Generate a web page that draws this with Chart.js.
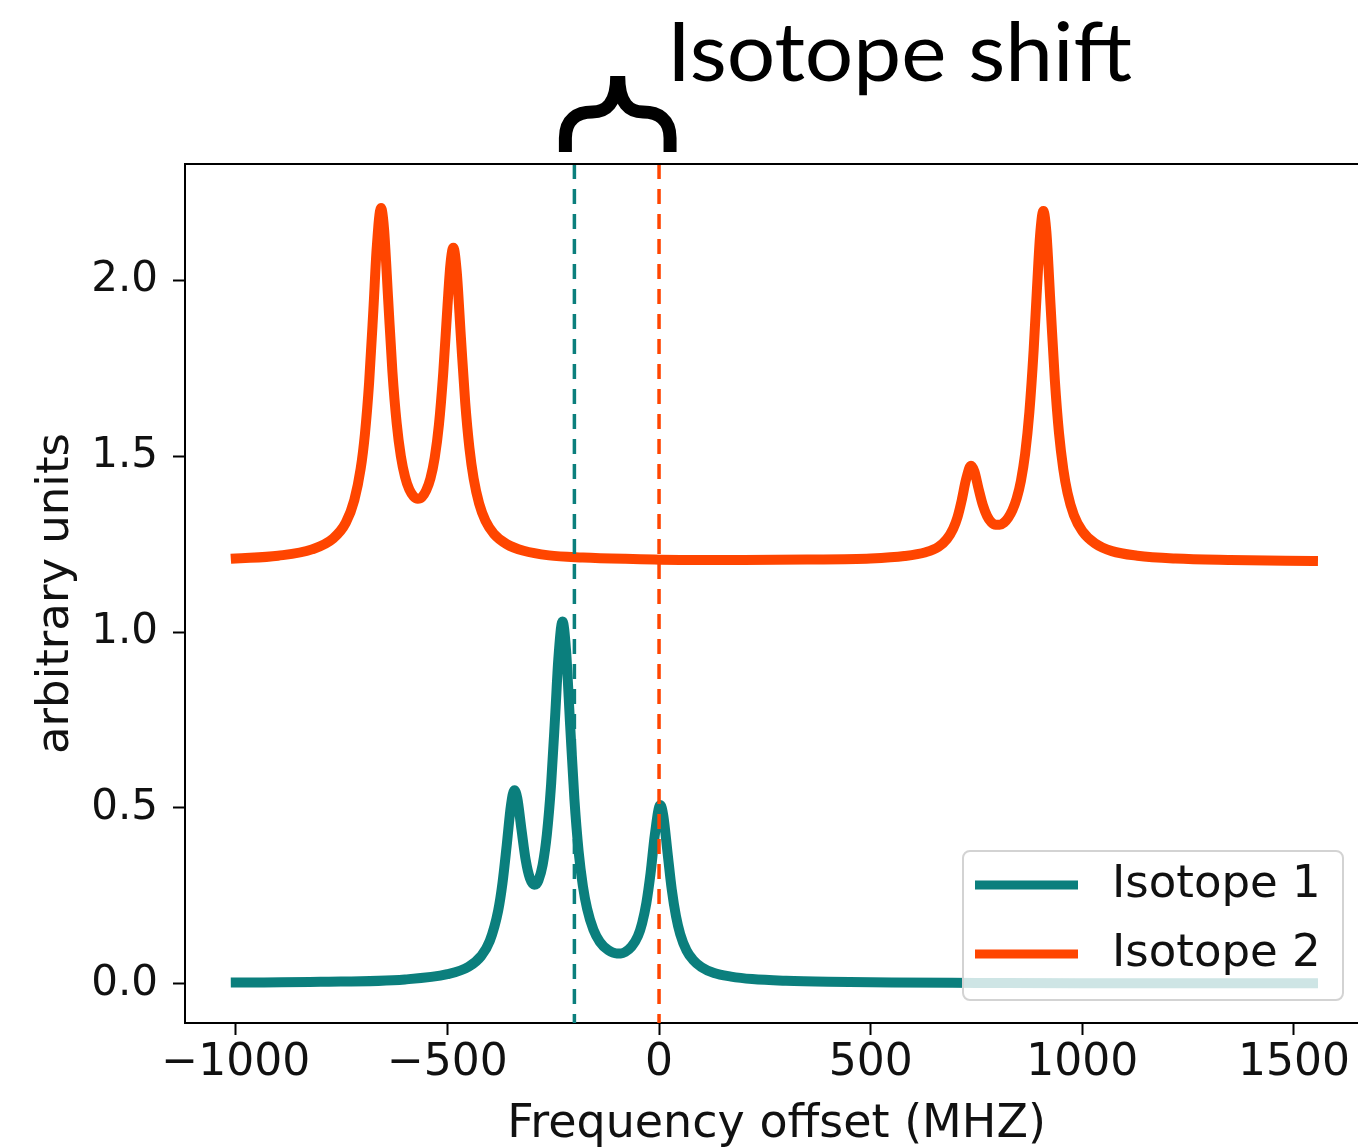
<!DOCTYPE html>
<html>
<head>
<meta charset="utf-8">
<script src="https://cdn.jsdelivr.net/npm/chart.js@4"></script>
<style>
  html, body { margin:0; padding:0; overflow:hidden; background:#fff; }
  #wrap { width:1400px; height:1148px; }
</style>
</head>
<body>
<div id="wrap"><canvas id="chart" width="1400" height="1148"></canvas></div>
<script>
// spectra (MHz offset, arbitrary units)
const freq1 = [-1000,-800,-600,-500,-450,-420,-400,-380,-370,-360,-350,-342,-335,-325,-315,-305,-295,-290,-285,-275,-265,-255,-245,-238,-228,-220,-210,-200,-190,-180,-170,-155,-140,-120,-100,-90,-80,-65,-50,-40,-30,-20,-10,3,10,20,30,40,50,65,80,100,130,170,220,300,400,550,750,1000,1250,1545];
const isotope1 = [0.003,0.005,0.012,0.027,0.048,0.079,0.121,0.208,0.285,0.392,0.506,0.550,0.528,0.438,0.351,0.299,0.281,0.283,0.293,0.338,0.425,0.567,0.771,0.922,1.030,0.952,0.734,0.525,0.376,0.278,0.213,0.153,0.119,0.095,0.086,0.086,0.090,0.105,0.135,0.172,0.229,0.314,0.423,0.508,0.478,0.373,0.268,0.192,0.141,0.094,0.068,0.047,0.030,0.020,0.013,0.008,0.005,0.003,0.002,0.001,0.001,0.001];

const freq2 = [-1000,-900,-820,-770,-740,-720,-705,-695,-685,-675,-667,-657,-650,-640,-630,-620,-610,-600,-590,-580,-570,-560,-550,-540,-530,-520,-510,-500,-493,-486,-478,-468,-458,-448,-438,-425,-410,-390,-360,-320,-260,-180,-80,50,200,350,500,580,630,660,680,695,705,715,725,737,745,755,765,775,785,795,805,815,825,835,845,855,865,875,885,893,900,908,915,925,935,945,955,965,980,1000,1030,1070,1130,1220,1350,1545];
const isotope2 = [1.209,1.217,1.235,1.266,1.311,1.375,1.464,1.562,1.709,1.915,2.093,2.206,2.150,1.946,1.741,1.595,1.500,1.441,1.405,1.386,1.379,1.384,1.403,1.437,1.496,1.590,1.735,1.924,2.044,2.093,2.025,1.835,1.653,1.523,1.436,1.365,1.316,1.279,1.250,1.231,1.218,1.212,1.208,1.205,1.205,1.206,1.209,1.216,1.227,1.242,1.264,1.294,1.326,1.374,1.432,1.473,1.457,1.407,1.361,1.330,1.312,1.305,1.305,1.311,1.325,1.347,1.380,1.430,1.507,1.626,1.801,1.979,2.124,2.197,2.139,1.929,1.718,1.565,1.464,1.396,1.333,1.287,1.252,1.230,1.217,1.209,1.205,1.202];

const labels = ['Isotope 1', 'Isotope 2'];
const colors = ['#0b7f7d', '#ff4500'];
const shiftLines = [-200, 0];   // dashed reference lines
const xTicks = [-1000, -500, 0, 500, 1000, 1500];
const yTicks = [0, 0.5, 1.0, 1.5, 2.0];
const annotation = 'Isotope shift';

const FONT = 'DejaVu Sans';

const toPoints = (xs, ys) => xs.map((x, i) => ({ x, y: ys[i] }));

const extras = {
  id: 'extras',
  afterDatasetsDraw(chart){
    const { ctx, chartArea: a, scales: { x } } = chart;
    ctx.save();
    // dashed lines
    ctx.lineWidth = 3.5;
    ctx.setLineDash([15, 10]);
    shiftLines.forEach((v, i) => {
      const px = x.getPixelForValue(v);
      ctx.strokeStyle = colors[i];
      ctx.beginPath();
      ctx.moveTo(px, a.top);
      ctx.lineTo(px, a.bottom);
      ctx.stroke();
    });
    ctx.setLineDash([]);
    // top and right spines
    ctx.strokeStyle = '#000';
    ctx.lineWidth = 2;
    ctx.beginPath();
    ctx.moveTo(a.left - 1, a.top);
    ctx.lineTo(a.right, a.top);
    ctx.lineTo(a.right, a.bottom);
    ctx.stroke();
    ctx.restore();
  },
  afterDraw(chart){
    const { ctx, chartArea: a, scales: { x } } = chart;
    ctx.save();

    // legend box, lower right
    const bx = a.right - 405, by = a.bottom - 172, bw = 380, bh = 149;
    ctx.fillStyle = 'rgba(255,255,255,0.8)';
    ctx.strokeStyle = '#d3d3d3';
    ctx.lineWidth = 2;
    ctx.beginPath();
    ctx.roundRect(bx, by, bw, bh, 7);
    ctx.fill();
    ctx.stroke();
    ctx.font = `45px "${FONT}"`;
    ctx.textBaseline = 'middle';
    ctx.textAlign = 'left';
    labels.forEach((lab, i) => {
      const ly = by + 34 + i * 69;
      ctx.strokeStyle = colors[i];
      ctx.lineWidth = 9;
      ctx.beginPath();
      ctx.moveTo(bx + 12, ly);
      ctx.lineTo(bx + 115, ly);
      ctx.stroke();
      ctx.fillStyle = '#111';
      ctx.fillText(lab, bx + 149, ly);
    });

    // brace spanning the two reference lines
    const xl = x.getPixelForValue(shiftLines[0]) - 9;
    const xr = x.getPixelForValue(shiftLines[1]) + 11;
    const xm = (xl + xr) / 2;
    ctx.strokeStyle = '#000';
    ctx.lineWidth = 13;
    ctx.lineCap = 'butt';
    ctx.lineJoin = 'round';
    [[xl, 1], [xr, -1]].forEach(([x0, s]) => {
      ctx.beginPath();
      ctx.moveTo(x0, 152);
      ctx.lineTo(x0, 138);
      ctx.bezierCurveTo(x0, 119, x0 + s * 12, 112, x0 + s * 27, 112);
      ctx.bezierCurveTo(xm - s * 12, 112, xm - s * 1, 104, xm - s * 1, 76);
      ctx.stroke();
    });

    // annotation text
    ctx.font = '81px Lato';
    ctx.fillStyle = '#000';
    ctx.textBaseline = 'alphabetic';
    const w = ctx.measureText(annotation).width;
    ctx.translate(667, 81);
    ctx.scale(465 / w, 1);
    ctx.fillText(annotation, 0, 0);
    ctx.restore();
  }
};

new Chart(document.getElementById('chart'), {
  type: 'line',
  data: {
    datasets: [
      { label: labels[0], data: toPoints(freq1, isotope1), borderColor: colors[0] },
      { label: labels[1], data: toPoints(freq2, isotope2), borderColor: colors[1] }
    ]
  },
  options: {
    responsive: false,
    animation: false,
    layout: { padding: { left: 0, top: 164, right: 32, bottom: 0 } },
    elements: {
      point: { radius: 0 },
      line: { borderWidth: 10, cubicInterpolationMode: 'monotone', fill: false, borderCapStyle: 'square' }
    },
    plugins: { legend: { display: false }, tooltip: { enabled: false } },
    scales: {
      x: {
        type: 'linear', min: -1120, max: 1675,
        afterBuildTicks: s => { s.ticks = xTicks.map(v => ({ value: v })); },
        afterFit: s => { s.height = 125; },
        grid: { drawOnChartArea: false, drawTicks: true, tickLength: 12, tickWidth: 2, tickColor: '#000' },
        border: { display: true, color: '#000', width: 2 },
        ticks: {
          padding: 2, maxRotation: 0, autoSkip: false, color: '#111',
          font: { family: FONT, size: 44 },
          callback: v => String(v).replace('-', '\u2212')
        },
        title: { display: true, text: 'Frequency offset (MHZ)', color: '#111',
          font: { family: FONT, size: 46, lineHeight: 1 }, padding: 0 }
      },
      y: {
        type: 'linear', min: -0.112, max: 2.331,
        afterBuildTicks: s => { s.ticks = yTicks.map(v => ({ value: v })); },
        afterFit: s => { s.width = 185; },
        grid: { drawOnChartArea: false, drawTicks: true, tickLength: 12, tickWidth: 2, tickColor: '#000' },
        border: { display: true, color: '#000', width: 2 },
        ticks: {
          padding: 15, color: '#111',
          font: { family: FONT, size: 42 },
          callback: v => v.toFixed(1)
        },
        title: { display: true, text: 'arbitrary units', color: '#111',
          font: { family: FONT, size: 45 }, padding: { top: 29, bottom: 0 } }
      }
    }
  },
  plugins: [extras]
});
</script>
</body>
</html>
